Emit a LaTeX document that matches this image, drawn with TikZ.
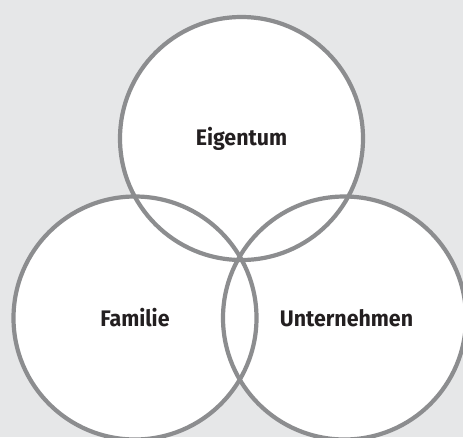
\documentclass[tikz,border=0pt]{standalone}
\usepackage{fontspec}
\setmainfont{Fira Sans}
\newfontfamily\lblfont{Fira Sans}[FakeStretch=0.95]
\definecolor{bg}{HTML}{E6E7E8}
\definecolor{ring}{HTML}{8C8D8F}
\definecolor{ink}{HTML}{231F20}
\begin{document}
\begin{tikzpicture}[x=1pt,y=-1pt,
  ringfill/.style={fill=white},
  ringline/.style={draw=ring,line width=4.2pt},
  lbl/.style={text=ink,font=\lblfont\fontsize{22.5}{26}\selectfont\bfseries}]
\useasboundingbox (0,0) rectangle (463,437);
\clip (0,0) rectangle (463,437);
\fill[bg] (0,0) rectangle (463,437);
\coordinate (cE) at (241.5,138.5);
\coordinate (cF) at (135,318);
\coordinate (cU) at (344.5,318);
\foreach \c in {cE,cF,cU} \fill[ringfill] (\c) circle[radius=121.5];
\foreach \c in {cE,cF,cU} \draw[ringline] (\c) circle[radius=121.5];
\node[lbl] (E) at (cE) {Eigentum};
\node[lbl] (F) at (cF) {Familie};
\node[lbl] (U) at ([xshift=2pt]cU) {Unternehmen};
\end{tikzpicture}
\end{document}
